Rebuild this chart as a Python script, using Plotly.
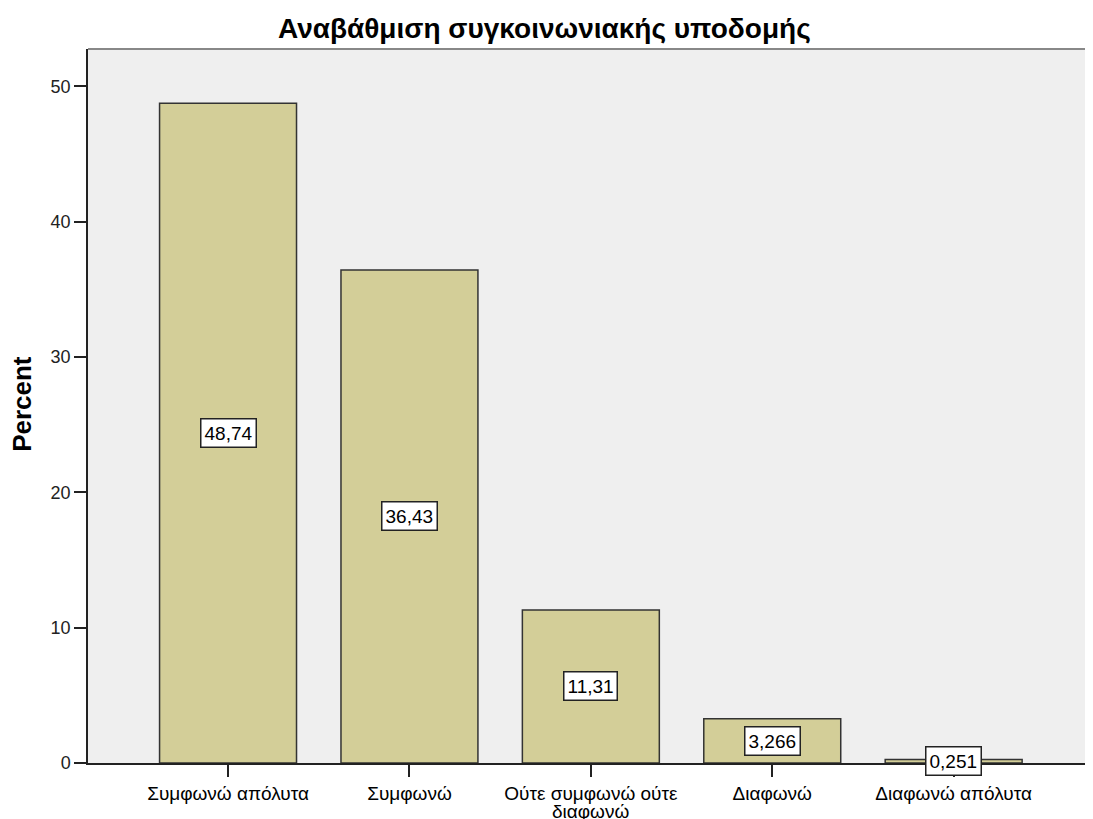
import plotly.graph_objects as go

# === Данные ===
categories = ['Συμφωνώ απόλυτα', 'Συμφωνώ', 'Ούτε συμφωνώ ούτε<br>διαφωνώ', 'Διαφωνώ', 'Διαφωνώ απόλυτα']
percent = [48.74, 36.43, 11.31, 3.266, 0.251]
labels = ['48,74', '36,43', '11,31', '3,266', '0,251']
y_ticks = [0, 10, 20, 30, 40, 50]

FONT = 'Liberation Sans, Arial'

fig = go.Figure()

fig.add_trace(
    go.Bar(
        x=list(range(len(categories))),
        y=percent,
        width=0.755,
        marker=dict(color='#D3CE98', line=dict(color='#333333', width=1.5)),
        hoverinfo='skip',
        showlegend=False
    )
)

# === Подписи значений в белых рамках ===
for i, (v, t) in enumerate(zip(percent, labels)):
    fig.add_annotation(
        x=i, y=v / 2, text=t, showarrow=False,
        font=dict(family=FONT, size=19, color='black'),
        bgcolor='white', bordercolor='#222222', borderwidth=1.5, borderpad=3
    )

# Подписи категорий: первая строка - тик, вторая строка - аннотация (плотный межстрочный интервал)
tick_first = []
for i, c in enumerate(categories):
    parts = c.split('<br>')
    tick_first.append(parts[0])
    if len(parts) > 1:
        fig.add_annotation(
            x=i, xref='x', y=0, yref='paper', yshift=-48,
            text=parts[1], showarrow=False, xanchor='center', yanchor='middle',
            font=dict(family=FONT, size=19, color='black')
        )

# Подпись оси Y
fig.add_annotation(
    xref='paper', yref='paper', x=-0.0662, y=0.503,
    text='<b>Percent</b>', textangle=-90, showarrow=False,
    xanchor='center', yanchor='middle',
    font=dict(family=FONT, size=26, color='black')
)

# верхняя граница рамки
fig.add_shape(type='line', xref='paper', yref='paper', x0=0, x1=1, y0=1, y1=1,
              line=dict(color='#888888', width=2))

# body страницы имеет отступ 8px
fig.update_layout(
    width=1077, height=811,
    title=dict(text='<b>Αναβάθμιση συγκοινωνιακής υποδομής</b>', x=0.498, xanchor='center',
               y=1 - 20 / 811, yanchor='middle',
               font=dict(family=FONT, size=28, color='black')),
    paper_bgcolor='white',
    plot_bgcolor='#EFEFEF',
    margin=dict(l=80, r=0, t=41, b=56),
    bargap=0.245
)

fig.update_xaxes(
    tickmode='array',
    tickvals=list(range(len(categories))),
    ticktext=tick_first,
    range=[-0.772, 4.724],
    automargin=False,
    showline=True, linecolor='#222222', linewidth=1.5,
    ticks='outside', ticklen=12, tickcolor='#222222', tickwidth=1.5,
    tickfont=dict(family=FONT, size=19, color='black'),
    showgrid=False, zeroline=False
)

fig.update_yaxes(
    tickmode='array', tickvals=y_ticks,
    range=[0, 52.75],
    automargin=False,
    showline=True, linecolor='#222222', linewidth=1.5,
    ticks='outside', ticklen=12, tickcolor='#222222', tickwidth=1.5,
    tickfont=dict(family=FONT, size=18, color='#222222'),
    showgrid=False, zeroline=False
)

fig.write_html('out.html')
